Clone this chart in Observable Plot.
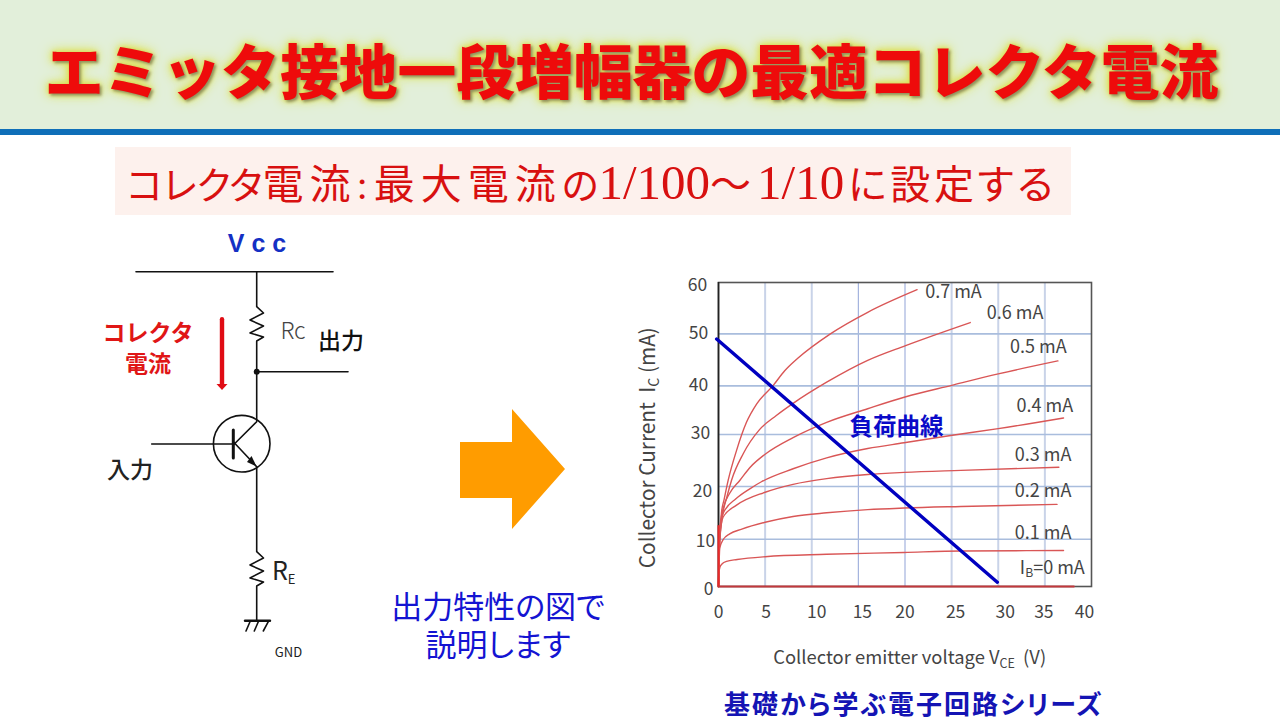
<!DOCTYPE html>
<html lang="ja">
<head>
<meta charset="utf-8">
<script src="https://cdn.jsdelivr.net/npm/d3@7"></script>
<script src="https://cdn.jsdelivr.net/npm/@observablehq/plot@0.6"></script>
<style>
html,body{margin:0;padding:0;background:#fff;width:1280px;height:720px;overflow:hidden;font-family:"Noto Sans CJK JP",sans-serif}
#slide{position:relative;width:1280px;height:720px;overflow:hidden}
#slide>*{position:absolute}
#band{left:0;top:0;width:1280px;height:129px;background:#e2efda}
#rule{left:0;top:129px;width:1280px;height:6px;background:#0f6fb8}
#title{left:0;top:26px;width:1263px;height:86px;line-height:86px;text-align:center;color:#ee0b0b;font-size:58.8px;font-weight:900;white-space:nowrap;
 text-shadow:2px 2px 3px #8f8f60,0 0 5px #dede50,0 0 10px #dde25a,0 0 14px #dde66a}
#subbox{left:115px;top:147px;width:956px;height:68px;background:#fdf1ed}
#sub{left:127px;top:147px;height:68px;line-height:72px;color:#d81010;white-space:nowrap;font-family:"Liberation Serif","Noto Sans CJK JP",serif;font-size:49px;font-weight:400;font-feature-settings:"palt"}
#sub .k{letter-spacing:0;font-size:38px}
#sub .h{letter-spacing:6px;font-size:41px}
#sub .e{letter-spacing:3.6px;font-size:40px;margin-left:4px}
#note{left:388px;top:589px;width:220px;text-align:center;color:#1414d2;font-family:"Liberation Sans","Noto Sans CJK JP",sans-serif;font-size:31px;line-height:38px;white-space:nowrap;font-feature-settings:"palt"}
#credit{left:724px;top:691px;color:#1414b4;font-family:"Liberation Sans","Noto Sans CJK JP",sans-serif;font-size:26px;line-height:28px;font-weight:700;white-space:nowrap;letter-spacing:2px;font-feature-settings:"palt"}
#circuit{left:90px;top:215px}
#chart{left:620px;top:270px}
svg{background:transparent!important;display:block}
</style>
</head>
<body>
<div id="slide">
  <div id="band"></div>
  <div id="rule"></div>
  <div id="title">エミッタ接地一段増幅器の最適コレクタ電流</div>
  <div id="subbox"></div>
  <div id="sub"><span class="k">コレクタ</span><span class="h">電流:最大電流</span><span class="k">の</span>1/100<span class="h">〜</span>1/10<span class="e">に設定する</span></div>
  <div id="note">出力特性の図で<br>説明します</div>
  <div id="credit">基礎から学ぶ電子回路シリーズ</div>
  <div id="circuit"></div>
  <div id="chart"></div>
</div>
<script>
// ---- output characteristic data: [VCE (V), IC (mA)] ----
const ib00 = [[0,0],[38.1,0]];
const ib01 = [[0,0],[0.03,2.5],[0.14,4],[0.4,4.8],[0.86,5.3],[2,5.7],[5,6.3],[11.6,6.8],[19.9,7.2],[26,7.5],[37,7.6]];
const ib02 = [[0,0],[0.05,4],[0.14,8.2],[0.5,9.9],[1.2,11],[2.5,11.9],[5,13.2],[8,14.3],[11.6,15],[16,15.6],[19.9,15.9],[26,16.2],[36.3,16.6]];
const ib03 = [[0,0],[0.05,5],[0.15,10.5],[0.5,14.2],[1.9,16.4],[5,18.9],[8,20.4],[11.6,21.5],[16,22.3],[19.9,22.7],[26,23.1],[36.5,23.7]];
const ib04 = [[0,0],[0.05,6],[0.15,12],[0.5,14.9],[1.9,17.7],[3.4,19.6],[4.6,20.9],[8,23.4],[11.6,25.5],[16,27.3],[19.9,28.4],[24.9,29.8],[30,31.2],[37,33.4]];
const ib05 = [[0,0],[0.05,6],[0.15,12],[0.5,15.8],[1.2,18.7],[2.3,21.2],[3.4,23.7],[5,26.2],[8,29.4],[11.6,32.5],[16,35.3],[20,37.7],[25,40.1],[30,42.3],[36.4,44.8]];
const ib06 = [[0,0],[0.05,6],[0.15,10],[0.43,14.5],[0.9,18],[1.4,21.2],[2.65,26.3],[4.4,31],[6.2,33.9],[8,36.4],[11.6,40.7],[16,44.9],[20,47.7],[27,52.2]];
const ib07 = [[0,0],[0.05,6],[0.15,10],[0.32,15],[0.6,17.5],[1.04,21.2],[1.93,26.9],[3,32.5],[4.1,36.3],[5.87,40.1],[7.1,42.9],[8.5,45.3],[12,50],[16,54.2],[21.3,58.6]];
const curves = [ib01,ib02,ib03,ib04,ib05,ib06,ib07];
const loadLine = [[-0.2,49],[29.9,0.9]];

const curveLabels = ["0.7 mA","0.6 mA","0.5 mA","0.4 mA","0.3 mA","0.2 mA","0.1 mA","I_B=0 mA"];
const curveLabelX = [25.2,31.8,34.3,35,34.8,34.8,34.8,35.8];
const curveLabelY = [58.2,53.95,47.4,35.9,26,19,11.1,3.8];

const xTicks = [0,5,10,15,20,25,30,35,40];
const yTicks = [0,10,20,30,40,50,60];
const xGridLight = [5,10,25,30,35];
const xGridStrong = [15,20];
const yGrid = [10,20,30,40,50];

// the source figure's y grid is slightly uneven: where each tick falls on a uniform 0-60 axis
const yCalib = [0,9.34,19.75,30,39.6,49.87,60];
const ym = d3.scaleLinear(yTicks,yCalib);

// ---- placement of the hand-set tick labels in the source figure ----
const xTickNudge = [0,1,5,4,0,4,7,-1,-7];
const yTickNudgeX = [-10,-13,-16,-18,-20,-20,-21];
const yTickNudgeY = [3,2,5,-1,0,0,3];

const font = '"Noto Sans CJK JP",sans-serif';
const tickStyle = {fill:"#444",fontSize:17.5,fontFamily:font,textAnchor:"middle"};

const chart = Plot.plot({
  width:490,height:420,marginLeft:98,marginRight:19,marginTop:12,marginBottom:104,
  style:{background:"transparent",overflow:"visible"},
  x:{domain:[0,40],axis:null},
  y:{domain:[0,60],axis:null},
  marks:[
    Plot.ruleX(xGridLight,{stroke:"#c9d3e8",strokeWidth:2}),
    Plot.ruleX(xGridStrong,{stroke:"#a3b2de",strokeWidth:1.2}),
    Plot.ruleY(yGrid,{y:d=>ym(d),stroke:"#a9bddd",strokeWidth:1.6}),
    Plot.frame({stroke:"#555",strokeWidth:1.6}),
    Plot.ruleX([0],{y1:0,y2:60,stroke:"#222",strokeWidth:1.6}),
    ...curves.map(c=>Plot.line(c,{x:d=>d[0],y:d=>ym(d[1]),curve:"monotone-x",stroke:"#d95656",strokeWidth:1.4})),
    Plot.ruleX([0],{y1:0,y2:12,stroke:"#e82828",strokeWidth:2}),
    Plot.line(ib00,{x:d=>d[0],y:d=>ym(d[1]),stroke:"#c2383c",strokeWidth:2.2}),
    Plot.line(loadLine,{x:d=>d[0],y:d=>ym(d[1]),stroke:"#0000c0",strokeWidth:3.4}),
    ...xTicks.map((t,i)=>Plot.text([t],{x:d=>d,y:0,dy:26,dx:xTickNudge[i],text:d=>String(d),...tickStyle})),
    ...yTicks.map((t,i)=>Plot.text([t],{x:0,y:d=>ym(d),dx:yTickNudgeX[i],dy:yTickNudgeY[i],text:d=>String(d),...tickStyle})),
    Plot.text(curveLabels,{x:(d,i)=>curveLabelX[i],y:(d,i)=>ym(curveLabelY[i]),text:d=>d,fill:"#444",fontSize:18,fontFamily:font,textAnchor:"middle"}),
    Plot.text(["負荷曲線"],{x:[19.1],y:[ym(31.4)],text:d=>d,fill:"#0a0ac8",fontSize:23.5,fontWeight:700,fontFamily:font}),
    Plot.text(["Collector Current\u00a0\u00a0I_C (mA)"],{x:[0],y:[27.4],dx:-70,rotate:-90,text:d=>d,fill:"#444",fontSize:20.8,fontFamily:font}),
    Plot.text(["Collector emitter voltage V_CE\u00a0\u00a0(V)"],{x:[20.5],y:[0],dy:72,text:d=>d,fill:"#444",fontSize:18.4,fontFamily:font})
  ]
});
chart.querySelectorAll("text").forEach(t=>{
  const m = t.textContent.match(/^(.*)_([A-Z]+)(.*)$/);
  if(!m) return;
  t.textContent = m[1];
  const ns = "http://www.w3.org/2000/svg";
  const sub = document.createElementNS(ns,"tspan");
  sub.setAttribute("dy","0.25em"); sub.setAttribute("font-size","0.68em"); sub.textContent = m[2];
  const rest = document.createElementNS(ns,"tspan");
  rest.setAttribute("dy","-0.17em"); rest.textContent = m[3];
  t.append(sub,rest);
});
document.getElementById("chart").append(chart);

// ---- schematic: node positions on the drawing grid ----
const wires = [
  [[136,271.7],[333,271.7]],
  [[256.7,271.7],[256.7,306.7],[263.5,313],[250,320],[263.5,326],[250,333],[263.5,337],[256.7,341],[256.7,421.7],[233.3,445]],
  [[256.7,371.7],[348,371.7]],
  [[151.7,444],[233,444]],
  [[256.7,466.7],[256.7,551.7],[263.5,558],[250,565],[263.5,571],[250,578],[263.5,582],[256.7,586],[256.7,620.7]],
  [[250,621.7],[246,631]],[[258.3,621.7],[254.3,631]],[[268.3,621.7],[263.3,631]],
  [[233.3,441.7],[256.7,466.7]]
];
const groundBar = [[245,620.7],[270,620.7]];
const baseBar = [[233.3,430],[233.3,458]];
const emitterHead = [[256.7,466.7],[247,462],[251.5,456]];
const transistor = [[241.7,443.7]];
const junction = [[256.7,371.7]];
const currentShaft = [[222,319.3],[222,384]];
const currentHead = [[216.5,384],[227.5,384],[222,390]];
const bigArrow = [[460,442],[512,442],[512,409],[565,469],[512,529],[512,498],[460,498]];
const labels = [
  {t:"V c c",x:257,y:244,s:25,c:"#1430c4",w:700,f:'"Liberation Sans",sans-serif'},
  {t:"Rc",x:293,y:332,s:23,c:"#444",w:300,f:font},
  {t:"出力",x:341,y:342,s:23,c:"#111",w:500,f:font},
  {t:"コレクタ",x:148,y:334,s:23,c:"#e01616",w:700,f:font},
  {t:"電流",x:148,y:365,s:23,c:"#e01616",w:700,f:font},
  {t:"入力",x:130,y:471,s:23,c:"#222",w:500,f:font},
  {t:"R",x:280,y:572,s:25,c:"#222",w:400,f:font},
  {t:"E",x:291.5,y:580,s:13,c:"#222",w:400,f:font},
  {t:"GND",x:288.5,y:653,s:13,c:"#222",w:400,f:font}
];
const X = d=>d[0]-90.5, Y = d=>d[1]-215.5;
const circuit = Plot.plot({
  width:490,height:455,margin:0,
  style:{background:"transparent"},
  x:{type:"identity",axis:null},
  y:{type:"identity",axis:null},
  marks:[
    Plot.line(bigArrow,{x:X,y:Y,fill:"#ff9c00",stroke:"none"}),
    ...wires.map(w=>Plot.line(w,{x:X,y:Y,stroke:"#111",strokeWidth:1.6})),
    Plot.line(groundBar,{x:X,y:Y,stroke:"#111",strokeWidth:2.4}),
    Plot.line(baseBar,{x:X,y:Y,stroke:"#111",strokeWidth:3}),
    Plot.line(emitterHead,{x:X,y:Y,fill:"#111",stroke:"none"}),
    Plot.dot(transistor,{x:X,y:Y,r:28.3,stroke:"#111",strokeWidth:1.6,fill:"none"}),
    Plot.dot(junction,{x:X,y:Y,r:3,fill:"#111"}),
    Plot.line(currentShaft,{x:X,y:Y,stroke:"#e00c14",strokeWidth:4.4}),
    Plot.line(currentHead,{x:X,y:Y,fill:"#e00c14",stroke:"none"}),
    ...labels.map(l=>Plot.text([l],{x:d=>d.x-90.5,y:d=>d.y-215.5,text:d=>d.t,fontSize:l.s,fill:l.c,fontWeight:l.w,fontFamily:l.f}))
  ]
});
document.getElementById("circuit").append(circuit);
</script>
</body>
</html>
